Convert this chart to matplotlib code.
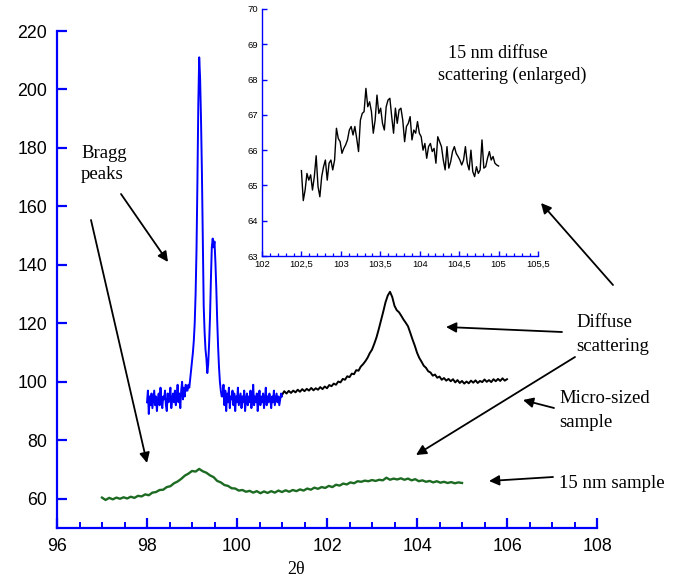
import numpy as np
import matplotlib
matplotlib.use("Agg")
import matplotlib.pyplot as plt
from matplotlib.ticker import MultipleLocator, FuncFormatter

# ---------------- data ----------------
# Micro-sized sample, Bragg region (blue)
blue_left_x = (98.00, 98.88)
blue_left_y = [93, 97, 89, 95, 92, 96, 91, 94, 97, 92, 95, 90, 94, 96, 92, 98, 93, 91,
               95, 94, 97, 92, 90, 96, 93, 95, 98, 91, 94, 96, 93, 97, 92, 95, 99, 93,
               96, 91, 97, 100, 94, 98, 95, 99, 97]
blue_peak_x = [98.90, 98.92, 98.94, 98.96, 98.98, 99.00, 99.02, 99.04, 99.06, 99.08,
               99.10, 99.12, 99.14, 99.16, 99.18, 99.20, 99.22, 99.24, 99.26, 99.28,
               99.30, 99.32, 99.34, 99.36, 99.38, 99.40, 99.42, 99.44, 99.46, 99.48,
               99.50, 99.52, 99.54, 99.56, 99.58, 99.60, 99.62, 99.64, 99.66]
blue_peak_y = [97, 99, 98, 101, 104, 107, 110, 114, 120, 130,
               145, 168, 195, 211, 204, 190, 172, 150, 126, 117,
               111, 108, 103, 106, 113, 122, 135, 146, 149, 146,
               148, 141, 132, 121, 112, 105, 100, 97, 95]
blue_right_x = (99.68, 101.00)
blue_right_y = [95, 99, 92, 97, 90, 96, 93, 98, 91, 95, 94, 97, 92, 96, 90, 95, 93, 98,
                92, 94, 96, 91, 95, 93, 97, 90, 94, 96, 92, 95, 93, 97, 91, 94, 99, 92,
                95, 93, 96, 90, 94, 97, 92, 95, 93, 96, 91, 94, 98, 92, 95, 93, 96, 94,
                91, 95, 93, 97, 92, 94, 96, 93, 95, 92, 94, 96, 95]

# Micro-sized sample, diffuse scattering (black)
black_x = (101.0, 106.0)
black_y = [95.5, 96.8, 96.0, 96.9, 96.2, 97.0, 96.4, 97.3, 96.6, 97.5, 96.8, 97.6, 97.0,
           97.9, 97.1, 97.8, 97.3, 98.2, 97.5, 98.4, 97.8, 98.9, 98.5, 99.4, 99.0, 100.1,
           99.8, 101.0, 100.7, 101.9, 101.6, 102.8, 102.6, 104.0, 103.8, 105.2, 106.0,
           107.0, 108.2, 109.8, 111.0, 113.0, 115.2, 118.0, 121.0, 124.0, 127.2, 129.5,
           130.8, 129.0, 126.0, 124.5, 123.8, 122.6, 121.3, 120.2, 119.0, 116.8, 114.5,
           112.4, 110.0, 108.2, 106.9, 105.5, 104.8, 103.6, 103.2, 102.1, 102.5, 101.4,
           101.8, 100.7, 101.3, 100.4, 101.0, 100.2, 100.9, 99.8, 100.6, 99.6, 100.3,
           99.4, 100.1, 99.5, 100.4, 99.7, 100.5, 99.6, 100.3, 99.9, 100.8, 100.0, 100.6,
           99.9, 100.9, 100.2, 101.0, 100.3, 101.2, 100.4, 100.9]

# 15 nm sample (green)
green_x = (97.0, 105.0)
green_y = [60.4, 59.6, 60.3, 59.8, 60.4, 60.0, 60.5, 60.1, 60.7, 60.3, 61.0, 60.8, 61.5,
           61.2, 62.1, 62.3, 63.0, 63.1, 64.0, 64.3, 65.3, 65.9, 66.8, 67.9, 68.6, 69.5,
           69.3, 70.2, 69.4, 68.9, 68.0, 67.4, 66.1, 65.6, 64.7, 64.4, 63.6, 63.5, 62.8,
           63.0, 62.4, 62.7, 62.1, 62.6, 61.9, 62.5, 62.0, 62.6, 62.1, 62.8, 62.3, 62.9,
           62.4, 63.0, 62.6, 63.2, 62.8, 63.5, 63.1, 63.8, 63.4, 64.0, 63.7, 64.4, 64.0,
           64.8, 64.5, 65.2, 64.9, 65.6, 65.3, 66.0, 65.8, 66.2, 66.0, 66.4, 66.1, 66.5,
           66.3, 67.2, 66.5, 66.9, 66.6, 67.0, 66.5, 66.9, 66.3, 66.7, 66.0, 66.3, 65.8,
           66.1, 65.6, 66.0, 65.5, 65.8, 65.4, 65.7, 65.3, 65.6, 65.4]

# Inset: 15 nm diffuse scattering (enlarged)
inset_x = (102.5, 105.0)
inset_y = [65.42, 64.57, 64.87, 65.34, 65.15, 65.30, 64.87, 65.25, 65.84, 64.97, 64.68,
           65.25, 65.53, 65.72, 65.15, 65.63, 65.72, 65.44, 65.72, 66.62, 66.33, 66.24,
           65.91, 66.05, 66.15, 66.29, 66.57, 66.67, 66.43, 66.67, 66.33, 65.96, 66.85,
           67.04, 67.09, 67.75, 67.23, 67.37, 67.09, 66.48, 66.85, 67.56, 67.04, 67.19,
           66.76, 66.57, 67.23, 67.42, 67.47, 66.95, 66.48, 67.19, 66.76, 67.14, 67.19,
           66.85, 66.24, 66.67, 66.76, 66.95, 66.29, 66.57, 66.48, 66.81, 66.48, 66.38,
           66.00, 66.19, 65.77, 66.10, 66.19, 65.96, 66.05, 65.63, 66.38, 66.24, 66.10,
           65.72, 65.44, 66.10, 65.49, 65.67, 65.96, 66.10, 65.91, 65.82, 65.72, 65.58,
           65.72, 66.10, 65.63, 65.44, 66.00, 65.39, 65.25, 65.53, 65.34, 65.44, 66.29,
           65.49, 65.53, 65.77, 65.96, 65.72, 65.82, 65.63, 65.58, 65.55]

main_xticks = [96, 98, 100, 102, 104, 106, 108]
main_yticks = [60, 80, 100, 120, 140, 160, 180, 200, 220]
inset_xticks = [102, 102.5, 103, 103.5, 104, 104.5, 105, 105.5]
inset_yticks = [63, 64, 65, 66, 67, 68, 69, 70]

# ---------------- styling ----------------
BLUE = "#0000ff"
GREEN = "#1d6b22"
SANS = ["Liberation Sans", "DejaVu Sans"]
SERIF = ["Liberation Serif", "DejaVu Serif"]
W, H = 694, 580

fig = plt.figure(figsize=(W / 100, H / 100), dpi=100)
fig.patch.set_facecolor("white")

ax = fig.add_axes([57 / W, 1 - 528 / H, 540 / W, 497 / H])
ax.set_xlim(96, 108)
ax.set_ylim(50, 220)

def seg(rng, vals):
    return np.linspace(rng[0], rng[1], len(vals)), np.asarray(vals, float)

bx1, by1 = seg(blue_left_x, blue_left_y)
bx3, by3 = seg(blue_right_x, blue_right_y)
bx = np.concatenate([bx1, blue_peak_x, bx3])
by = np.concatenate([by1, blue_peak_y, by3])
kx, ky = seg(black_x, black_y)
gx, gy = seg(green_x, green_y)

ax.plot(kx, ky, color="black", lw=1.4, zorder=3)
ax.plot(bx, by, color=BLUE, lw=1.4, zorder=4)
ax.plot(gx, gy, color=GREEN, lw=1.7, zorder=3)

for s in ["top", "right"]:
    ax.spines[s].set_visible(False)
for s in ["left", "bottom"]:
    ax.spines[s].set_color(BLUE)
    ax.spines[s].set_linewidth(1.6)

ax.set_xticks(main_xticks)
ax.set_yticks(main_yticks)
ax.xaxis.set_minor_locator(MultipleLocator(0.5))
ax.tick_params(axis="both", which="major", direction="in", length=7.5, width=1.6,
               color=BLUE, labelsize=12.8, pad=7)
ax.tick_params(axis="x", which="minor", direction="in", length=4.5, width=1.4, color=BLUE)
ax.tick_params(axis="y", which="minor", left=False)
for lab in ax.get_xticklabels() + ax.get_yticklabels():
    lab.set_family(SANS)

ax.set_xlabel("2θ", family=SERIF, fontsize=13)
ax.xaxis.set_label_coords(0.442, -0.066)

def dx(px):
    return 96 + (px - 57) * 12 / 540

def dy(py):
    return 50 + (528 - py) * 170 / 497

def t(px, py, s):
    ax.text(dx(px), dy(py), s, family=SERIF, fontsize=13.5, ha="left", va="baseline",
            clip_on=False)

t(81, 158, "Bragg")
t(81, 179, "peaks")
t(576, 327, "Diffuse")
t(576, 351, "scattering")
t(559, 403, "Micro-sized")
t(559, 427, "sample")
t(559, 488, "15 nm sample")

arrows = [
    ((121, 194), (168, 262)),
    ((91, 220), (147, 463)),
    ((613, 285), (541, 203)),
    ((562, 332), (446, 327)),
    ((575, 357), (416, 455)),
    ((554, 408), (523, 400)),
    ((553, 477), (489, 481)),
]
for (tx, ty), (hx, hy) in arrows:
    ax.annotate("", xy=(dx(hx), dy(hy)), xytext=(dx(tx), dy(ty)),
                arrowprops=dict(arrowstyle="-|>", color="black", lw=1.3,
                                mutation_scale=15, shrinkA=0, shrinkB=0),
                annotation_clip=False, zorder=5)

# ---------------- inset ----------------
ins = fig.add_axes([262 / W, 1 - 256 / H, 276 / W, 247 / H])
ins.set_facecolor("none")
ins.set_xlim(102, 105.5)
ins.set_ylim(63, 70)
ix, iy = seg(inset_x, inset_y)
ins.plot(ix, iy, color="black", lw=1.0)
for s in ["top", "right"]:
    ins.spines[s].set_visible(False)
for s in ["left", "bottom"]:
    ins.spines[s].set_color(BLUE)
    ins.spines[s].set_linewidth(1.0)
ins.set_xticks(inset_xticks)
ins.set_yticks(inset_yticks)
ins.xaxis.set_minor_locator(MultipleLocator(0.1))
ins.xaxis.set_major_formatter(FuncFormatter(lambda v, p: ("%g" % v).replace(".", ",")))
ins.tick_params(axis="both", which="major", direction="in", length=3.5, width=1.0,
                color=BLUE, labelsize=6.8, pad=3)
ins.tick_params(axis="x", which="minor", direction="in", length=2.2, width=0.9, color=BLUE)
for lab in ins.get_xticklabels() + ins.get_yticklabels():
    lab.set_family(SANS)

ins.text((448 - 262) / 276, (256 - 58) / 247, "15 nm diffuse", transform=ins.transAxes,
         family=SERIF, fontsize=13, ha="left", va="baseline")
ins.text((438 - 262) / 276, (256 - 80) / 247, "scattering (enlarged)", transform=ins.transAxes,
         family=SERIF, fontsize=13, ha="left", va="baseline")

fig.savefig("out.png", dpi=100)
